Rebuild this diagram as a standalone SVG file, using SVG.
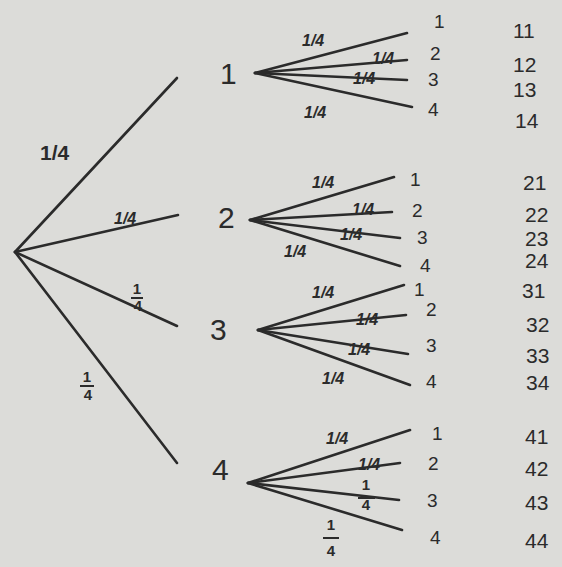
<svg xmlns="http://www.w3.org/2000/svg" width="562" height="567" viewBox="0 0 562 567">
<style>
.e{stroke:#2b2b2b;stroke-width:2.6;fill:none;stroke-linecap:round}
.b{stroke:#2b2b2b;stroke-width:2;fill:none}
text{font-family:"Liberation Sans","DejaVu Sans",sans-serif;fill:#2b2b2b}
.n{font-size:30px}
.p{font-size:16px;font-style:italic;font-weight:600}
.l{font-size:19px}
.o{font-size:21px}
.f{font-size:15px;text-anchor:middle;font-weight:600}
</style>
<rect width="562" height="567" fill="#dcdcd9"/>
<g id="connectors">
<line class="e" x1="15" y1="252" x2="177" y2="78"/>
<line class="e" x1="15" y1="252" x2="178" y2="215"/>
<line class="e" x1="15" y1="252" x2="177" y2="326"/>
<line class="e" x1="15" y1="252" x2="177" y2="463"/>
<line class="e" x1="255" y1="73" x2="407" y2="33"/>
<line class="e" x1="255" y1="73" x2="407" y2="60"/>
<line class="e" x1="255" y1="73" x2="407" y2="80"/>
<line class="e" x1="255" y1="73" x2="412" y2="107"/>
<line class="e" x1="250" y1="220" x2="394" y2="177"/>
<line class="e" x1="250" y1="220" x2="392" y2="212"/>
<line class="e" x1="250" y1="220" x2="400" y2="238"/>
<line class="e" x1="250" y1="220" x2="400" y2="266"/>
<line class="e" x1="258" y1="330" x2="404" y2="285"/>
<line class="e" x1="258" y1="330" x2="406" y2="315"/>
<line class="e" x1="258" y1="330" x2="408" y2="354"/>
<line class="e" x1="258" y1="330" x2="410" y2="385"/>
<line class="e" x1="248" y1="483" x2="410" y2="430"/>
<line class="e" x1="248" y1="483" x2="400" y2="463"/>
<line class="e" x1="248" y1="483" x2="399" y2="500"/>
<line class="e" x1="248" y1="483" x2="402" y2="530"/>
</g>
<g id="edge-labels">
<text class="o" x="40" y="160" style="font-weight:600">1/4</text>
<text class="p" x="114" y="224">1/4</text>
<g><text class="f" x="137" y="294">1</text><line class="b" x1="131" y1="298" x2="143" y2="298"/><text class="f" x="138" y="311">4</text></g>
<g><text class="f" x="87" y="382">1</text><line class="b" x1="80" y1="386" x2="94" y2="386"/><text class="f" x="88" y="400">4</text></g>
<text class="p" x="302" y="46">1/4</text>
<text class="p" x="372" y="64">1/4</text>
<text class="p" x="353" y="84">1/4</text>
<text class="p" x="304" y="118">1/4</text>
<text class="p" x="312" y="188">1/4</text>
<text class="p" x="352" y="215">1/4</text>
<text class="p" x="340" y="240">1/4</text>
<text class="p" x="284" y="257">1/4</text>
<text class="p" x="312" y="298">1/4</text>
<text class="p" x="356" y="325">1/4</text>
<text class="p" x="348" y="355">1/4</text>
<text class="p" x="322" y="384">1/4</text>
<text class="p" x="326" y="444">1/4</text>
<text class="p" x="358" y="470">1/4</text>
<g><text class="f" x="366" y="490">1</text><line class="b" x1="358" y1="498" x2="375" y2="498"/><text class="f" x="366" y="510">4</text></g>
<g><text class="f" x="331" y="530">1</text><line class="b" x1="323" y1="538" x2="339" y2="538"/><text class="f" x="331" y="556">4</text></g>
</g>
<g id="n1"><text class="n" x="220" y="84">1</text></g>
<g id="n2"><text class="n" x="218" y="228">2</text></g>
<g id="n3"><text class="n" x="210" y="340">3</text></g>
<g id="n4"><text class="n" x="212" y="480">4</text></g>
<g id="leaves1">
<text class="l" x="434" y="28">1</text><text class="l" x="430" y="60">2</text><text class="l" x="428" y="86">3</text><text class="l" x="428" y="116">4</text>
</g>
<g id="leaves2">
<text class="l" x="410" y="186">1</text><text class="l" x="412" y="217">2</text><text class="l" x="417" y="244">3</text><text class="l" x="420" y="272">4</text>
</g>
<g id="leaves3">
<text class="l" x="414" y="296">1</text><text class="l" x="426" y="316">2</text><text class="l" x="426" y="352">3</text><text class="l" x="426" y="388">4</text>
</g>
<g id="leaves4">
<text class="l" x="432" y="440">1</text><text class="l" x="428" y="470">2</text><text class="l" x="427" y="507">3</text><text class="l" x="430" y="544">4</text>
</g>
<g id="outcomes">
<text class="o" x="513" y="38">11</text><text class="o" x="513" y="72">12</text><text class="o" x="513" y="97">13</text><text class="o" x="515" y="128">14</text>
<text class="o" x="523" y="190">21</text><text class="o" x="525" y="222">22</text><text class="o" x="525" y="246">23</text><text class="o" x="525" y="268">24</text>
<text class="o" x="522" y="298">31</text><text class="o" x="526" y="332">32</text><text class="o" x="526" y="363">33</text><text class="o" x="526" y="390">34</text>
<text class="o" x="525" y="444">41</text><text class="o" x="525" y="476">42</text><text class="o" x="525" y="510">43</text><text class="o" x="525" y="548">44</text>
</g>
</svg>
